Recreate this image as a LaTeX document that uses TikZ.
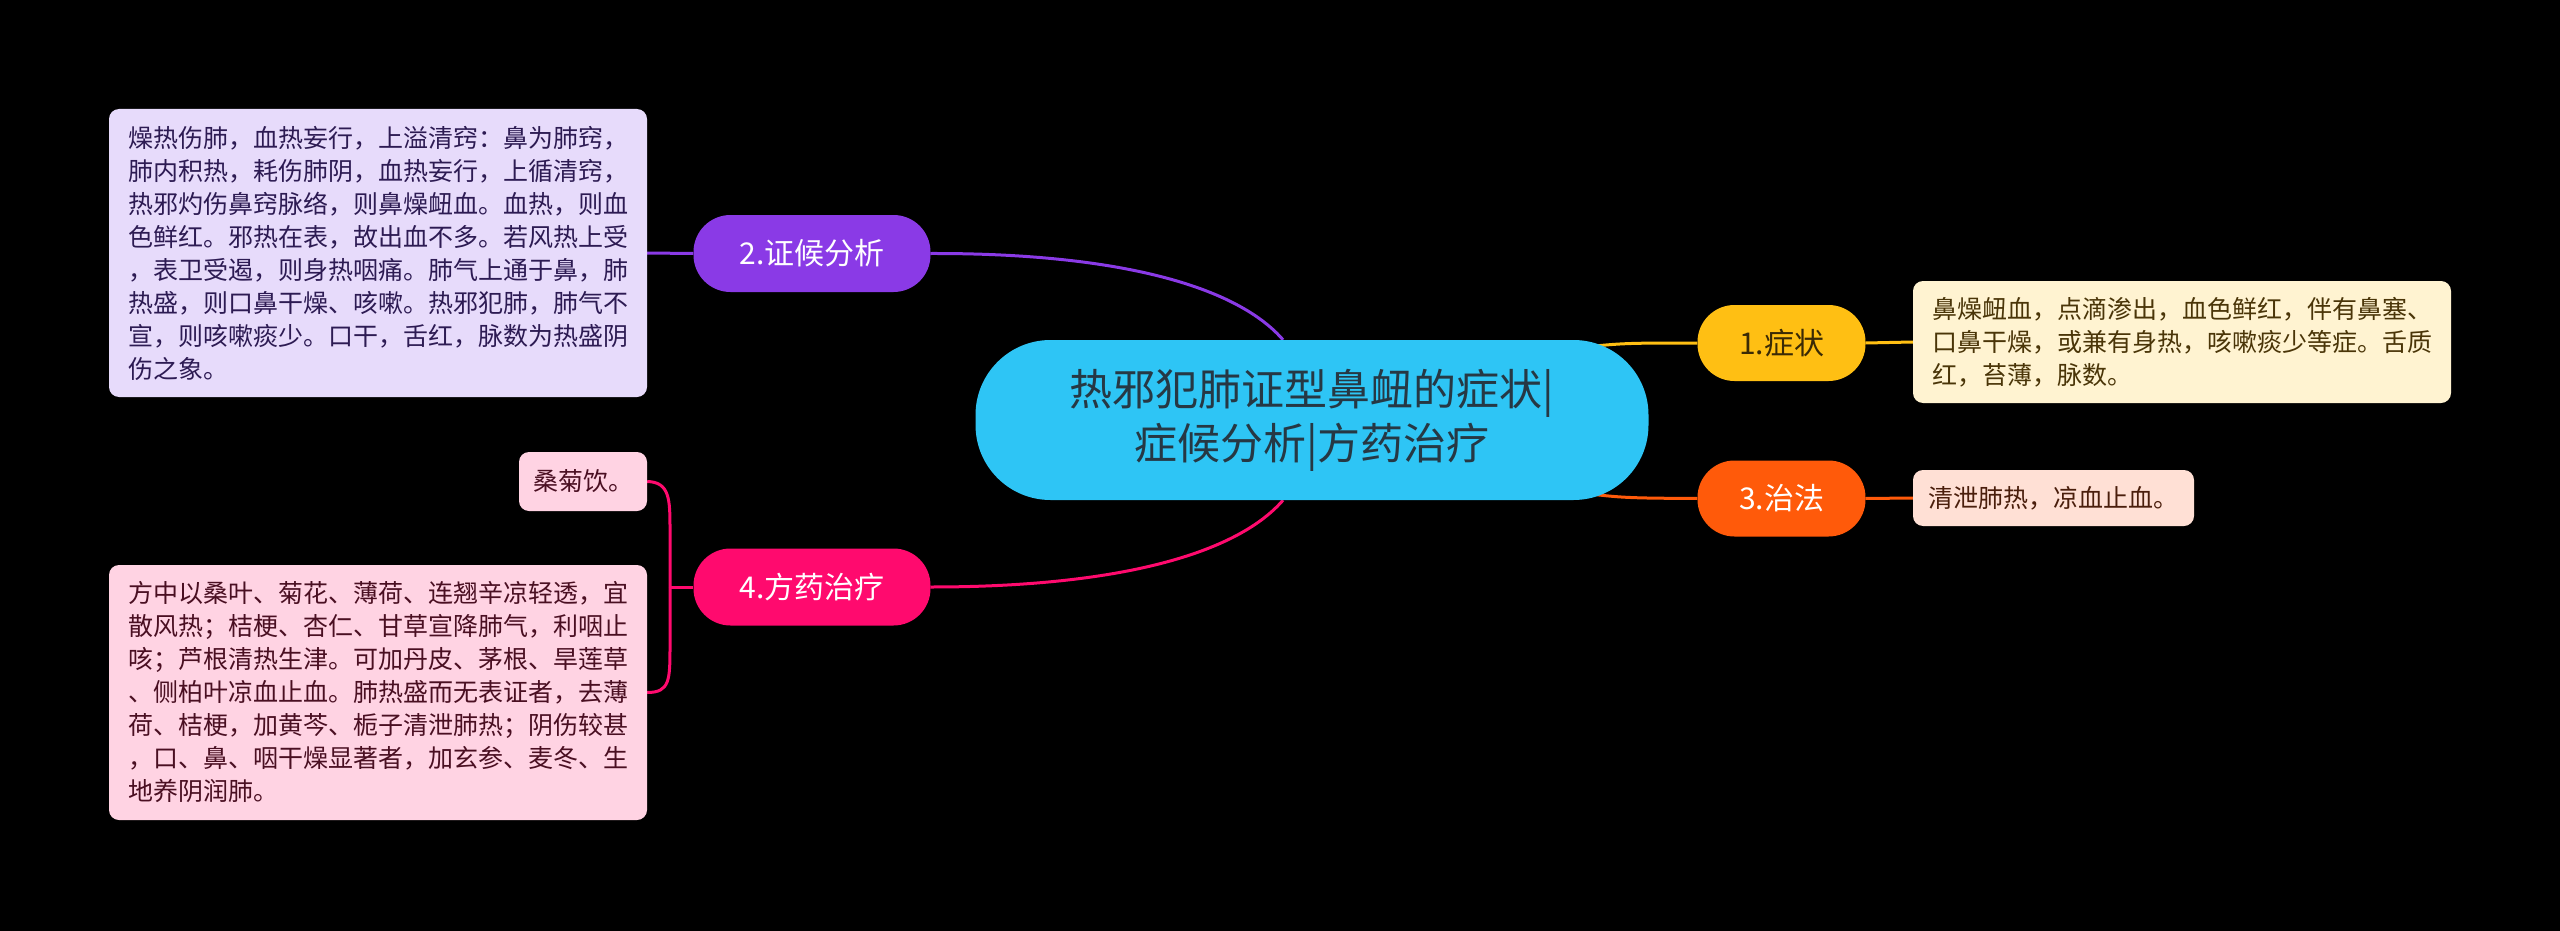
\documentclass[tikz,border=0pt]{standalone}
\usepackage{fontspec}
\setmainfont{Noto Sans CJK SC}
\usetikzlibrary{backgrounds}
\definecolor{cblue}{HTML}{2EC5F5}
\definecolor{cpurp}{HTML}{8A3AE6}
\definecolor{cpink}{HTML}{FF0A6E}
\definecolor{cyel}{HTML}{FFBF13}
\definecolor{corg}{HTML}{FF5A0A}
\definecolor{lav}{HTML}{E7DBFB}
\definecolor{lavtext}{HTML}{2D1B53}
\definecolor{pkleaf}{HTML}{FFD3E3}
\definecolor{pktext}{HTML}{4A0F22}
\definecolor{cream}{HTML}{FFF3D1}
\definecolor{creamtext}{HTML}{4A3508}
\definecolor{peach}{HTML}{FFE0D5}
\definecolor{peachtext}{HTML}{4A1E0C}
\definecolor{ctext}{HTML}{263844}
\definecolor{ytext}{HTML}{3A2A05}
\begin{document}
\begin{tikzpicture}[x=1pt,y=-1pt,
  central/.style={rounded corners=75pt, minimum width=673pt, minimum height=160pt, inner sep=0pt,
    fill=cblue, text=ctext, align=center, font=\fontsize{43}{54}\selectfont},
  mainbox/.style={rounded corners=37pt, minimum width=237pt, minimum height=77pt, inner sep=0pt,
    font=\fontsize{30}{36}\selectfont, text=white},
  leafbox/.style={rounded corners=10pt, inner sep=0pt, align=left, font=\fontsize{25}{33}\selectfont},
  conn/.style={line width=3pt}
]
\useasboundingbox (0,0) rectangle (2560,931);

\node[central] (c) at (1312,420) {热邪犯肺证型鼻衄的症状|\\症候分析|方药治疗};
\node[mainbox, fill=cpurp] (n2) at (812,253.5) {2.证候分析};
\node[mainbox, fill=cpink] (n4) at (812,587) {4.方药治疗};
\node[mainbox, minimum width=168pt, minimum height=76pt, fill=cyel, text=ytext] (n1) at (1781.5,343) {1.症状};
\node[mainbox, minimum width=168pt, minimum height=76pt, fill=corg] (n3) at (1781.5,498.5) {3.治法};

\node[leafbox, fill=lav, text=lavtext, minimum width=538pt, minimum height=288pt] (l2) at (378,253) {燥热伤肺，血热妄行，上溢清窍：鼻为肺窍，\\肺内积热，耗伤肺阴，血热妄行，上循清窍，\\热邪灼伤鼻窍脉络，则鼻燥衄血。血热，则血\\色鲜红。邪热在表，故出血不多。若风热上受\\，表卫受遏，则身热咽痛。肺气上通于鼻，肺\\热盛，则口鼻干燥、咳嗽。热邪犯肺，肺气不\\宣，则咳嗽痰少。口干，舌红，脉数为热盛阴\\伤之象。};
\node[leafbox, fill=pkleaf, text=pktext, minimum width=128pt, minimum height=59pt] (l4a) at (583,481.5) {桑菊饮。};
\node[leafbox, fill=pkleaf, text=pktext, minimum width=538pt, minimum height=255pt] (l4b) at (378,692.5) {方中以桑叶、菊花、薄荷、连翘辛凉轻透，宜\\散风热；桔梗、杏仁、甘草宣降肺气，利咽止\\咳；芦根清热生津。可加丹皮、茅根、旱莲草\\、侧柏叶凉血止血。肺热盛而无表证者，去薄\\荷、桔梗，加黄芩、栀子清泄肺热；阴伤较甚\\，口、鼻、咽干燥显著者，加玄参、麦冬、生\\地养阴润肺。};
\node[leafbox, fill=cream, text=creamtext, minimum width=538pt, minimum height=122pt] (l1) at (2182,342) {鼻燥衄血，点滴渗出，血色鲜红，伴有鼻塞、\\口鼻干燥，或兼有身热，咳嗽痰少等症。舌质\\红，苔薄，脉数。};
\node[leafbox, fill=peach, text=peachtext, minimum width=281pt, minimum height=56pt] (l3) at (2053.5,498) {清泄肺热，凉血止血。};

\coordinate (j) at (670,587);

\begin{scope}[on background layer]
\fill[black] (0,0) rectangle (2560,931);
\draw[conn, cpurp] (n2.east) .. controls (1130,253) and (1240,290) .. ([xshift=-29pt]c.north);
\draw[conn, cpink] (n4.east) .. controls (1130,587) and (1240,550) .. ([xshift=-29pt]c.south);
\draw[conn, cyel] ([shift={(248pt,70pt)}]c.center) .. controls (1620,343) .. (n1.west);
\draw[conn, corg] ([shift={(248pt,-70pt)}]c.center) .. controls (1620,498) .. (n3.west);
\draw[conn, cyel] (n1.east) -- (l1.west);
\draw[conn, corg] (n3.east) -- (l3.west);
\draw[conn, cpurp] (n2.west) -- (l2.east);
\draw[conn, cpink] (n4.west) -- (j);
\draw[conn, cpink] (l4a.east) .. controls (670,482) and (670,500) .. (670,530) -- (j);
\draw[conn, cpink] (l4b.east) .. controls (670,692.5) and (670,680) .. (670,645) -- (j);
\end{scope}
\end{tikzpicture}
\end{document}
